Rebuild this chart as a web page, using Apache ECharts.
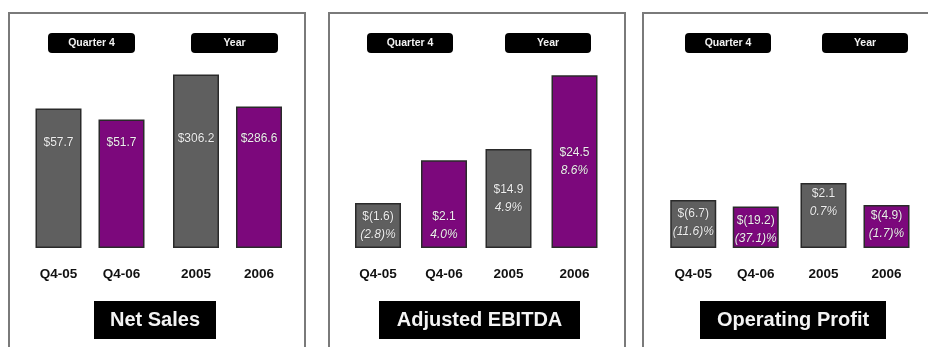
<!DOCTYPE html>
<html>
<head>
<meta charset="utf-8">
<script src="https://cdn.jsdelivr.net/npm/echarts@6/dist/echarts.min.js"></script>
<style>
  html, body { margin: 0; padding: 0; background: #ffffff; }
  #chart { width: 928px; height: 347px; }
</style>
</head>
<body>
<div id="chart"></div>
<script>
// Fourth-quarter and full-year results, $ millions
const periods = ['Q4-05', 'Q4-06', '2005', '2006'];
const groupLabels = ['Quarter 4', 'Year'];
const panelTitles = ['Net Sales', 'Adjusted EBITDA', 'Operating Profit'];

const netSales = [57.7, 51.7, 306.2, 286.6];
const adjEbitda = [-1.6, 2.1, 14.9, 24.5];
const ebitdaMargin = [-2.8, 4.0, 4.9, 8.6];
const opProfit = [-6.7, -19.2, 2.1, -4.9];
const opMargin = [-11.6, -37.1, 0.7, -1.7];

const GRAY = '#5f5f5f';
const PURPLE = '#7c087c';
const FONT = '"Liberation Sans", Arial, sans-serif';

function money(v) {
  return v < 0 ? '$(' + Math.abs(v).toFixed(1) + ')' : '$' + v.toFixed(1);
}
function pct(v) {
  return v < 0 ? '(' + Math.abs(v).toFixed(1) + ')%' : v.toFixed(1) + '%';
}

// Panel geometry: frame, header pills, quarter/year plot areas, title box
const panels = [
  { frame: [9, 13, 296], pills: [48, 191], pillW: 87,
    grids: [{ left: 27, width: 126 }, { left: 164.5, width: 126 }],
    ranges: [[-18, 84], [200, 315]],
    title: [94, 122],
    values: netSales, margins: null,
    labelPos: [{ position: 'insideBottom', distance: 96 }, { position: 'insideBottom', distance: 100 }] },
  { frame: [329, 13, 296], pills: [367, 505], pillW: 86,
    grids: [{ left: 345, width: 132 }, { left: 475.5, width: 132 }],
    ranges: [[-5.5, 10.8], [2, 26.5]],
    title: [379, 201],
    values: adjEbitda, margins: ebitdaMargin,
    labelPos: [{ position: 'insideBottom', distance: 4 }, { position: 'inside' }] },
  { frame: [643, 13, 300], pills: [685, 822], pillW: 86,
    grids: [{ left: 662, width: 125 }, { left: 792, width: 126 }],
    ranges: [[-100, 265], [-18.5, 41]],
    title: [700, 186],
    values: opProfit, margins: opMargin,
    labelPos: [{ position: 'insideTop', distance: 5 }, { position: 'insideTop', distance: 2 }] }
];

const grid = [], xAxis = [], yAxis = [], series = [], graphic = [];

panels.forEach(function (p, pi) {
  graphic.push({
    type: 'rect', z: 0,
    shape: { x: p.frame[0], y: p.frame[1], width: p.frame[2], height: 360 },
    style: { fill: '#ffffff', stroke: '#7a7a7a', lineWidth: 2 }
  });
  p.pills.forEach(function (px, gi) {
    graphic.push({
      type: 'rect', z: 5,
      shape: { x: px, y: 33, width: p.pillW, height: 20, r: 4 },
      style: { fill: '#000000' }
    });
    graphic.push({
      type: 'text', z: 6, x: px + p.pillW / 2, y: 43,
      style: { text: groupLabels[gi], fill: '#f2f2f2', font: 'bold 10.5px ' + FONT,
               align: 'center', verticalAlign: 'middle' }
    });
  });
  graphic.push({
    type: 'rect', z: 5,
    shape: { x: p.title[0], y: 301, width: p.title[1], height: 38 },
    style: { fill: '#000000' }
  });
  graphic.push({
    type: 'text', z: 6, x: p.title[0] + p.title[1] / 2, y: 320,
    style: { text: panelTitles[pi], fill: '#f4f4f4', font: 'bold 20px ' + FONT,
             align: 'center', verticalAlign: 'middle' }
  });

  p.grids.forEach(function (g, gi) {
    const idx = grid.length;
    const cats = periods.slice(gi * 2, gi * 2 + 2);
    const vals = p.values.slice(gi * 2, gi * 2 + 2);
    grid.push({ left: g.left, width: g.width, top: 60, height: 188 });
    xAxis.push({
      type: 'category', gridIndex: idx, data: cats,
      axisLine: { show: false }, axisTick: { show: false },
      axisLabel: { margin: 19, color: '#111111', fontSize: 13.5, fontWeight: 'bold', fontFamily: FONT }
    });
    yAxis.push({
      type: 'value', gridIndex: idx, show: false,
      min: p.ranges[gi][0], max: p.ranges[gi][1], startValue: p.ranges[gi][0],
      splitLine: { show: false }
    });
    series.push({
      type: 'bar', xAxisIndex: idx, yAxisIndex: idx,
      data: vals, barWidth: 46, silent: true,
      itemStyle: {
        color: function (d) { return d.dataIndex === 0 ? GRAY : PURPLE; },
        borderColor: '#2a2a2a', borderWidth: 1.5
      },
      label: Object.assign({
        show: true,
        formatter: function (d) {
          const k = gi * 2 + d.dataIndex;
          let s = '{v|' + money(p.values[k]) + '}';
          if (p.margins) s += '\n{p|' + pct(p.margins[k]) + '}';
          return s;
        },
        rich: {
          v: { color: '#eeeeee', fontSize: 12, fontFamily: FONT, lineHeight: 18,
               textShadowColor: 'rgba(0,0,0,0.5)', textShadowBlur: 1 },
          p: { color: '#eeeeee', fontSize: 12, fontStyle: 'italic', fontFamily: FONT, lineHeight: 18,
               textShadowColor: 'rgba(0,0,0,0.5)', textShadowBlur: 1 }
        }
      }, p.labelPos[gi])
    });
  });
});

const chart = echarts.init(document.getElementById('chart'));
chart.setOption({
  animation: false,
  backgroundColor: '#ffffff',
  grid: grid, xAxis: xAxis, yAxis: yAxis, series: series,
  graphic: { elements: graphic }
});
</script>
</body>
</html>
